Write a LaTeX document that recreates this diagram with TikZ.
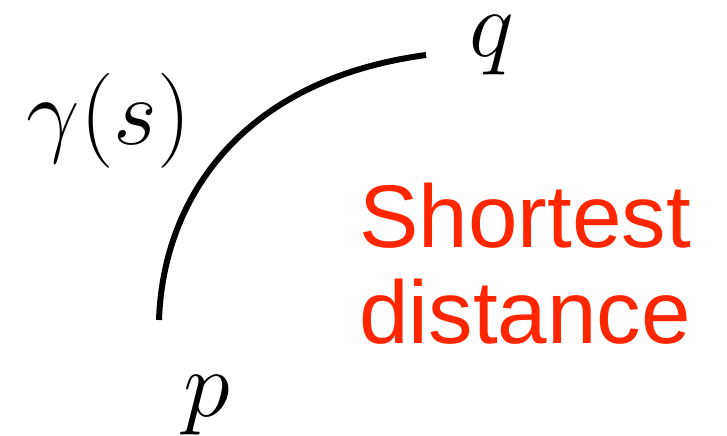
\RequirePackage{fix-cm}
\documentclass[tikz,border=0pt]{standalone}
\usepackage{fontspec}
\newfontfamily\notefont{Liberation Sans}
\definecolor{notered}{RGB}{255,38,0}
\begin{document}
\begin{tikzpicture}[x=0.5pt, y=-0.5pt,
  mathlbl/.style={anchor=base, inner sep=0pt, font=\fontsize{47.5}{50}\selectfont},
  note/.style={anchor=base west, inner sep=0pt, align=left, text=notered,
               font=\notefont\fontsize{44.5}{48}\selectfont},
  path/.style={line width=3pt, line cap=butt}
]
  \useasboundingbox (0,0) rectangle (727,435);
  \coordinate (start) at (159,320);
  \coordinate (end)   at (426,55);
  \draw[path] (start) .. controls (163,200) and (240,80) .. (end);
  \node[mathlbl] (gamma) at (109,144) {$\gamma(s)$};
  \node[mathlbl] (q)     at (492,56)  {$q$};
  \node[mathlbl] (p)     at (207,416) {$p$};
  % label on the right
  \node[note] (dist) at (359,343) {Shortest\\distance};
\end{tikzpicture}
\end{document}
